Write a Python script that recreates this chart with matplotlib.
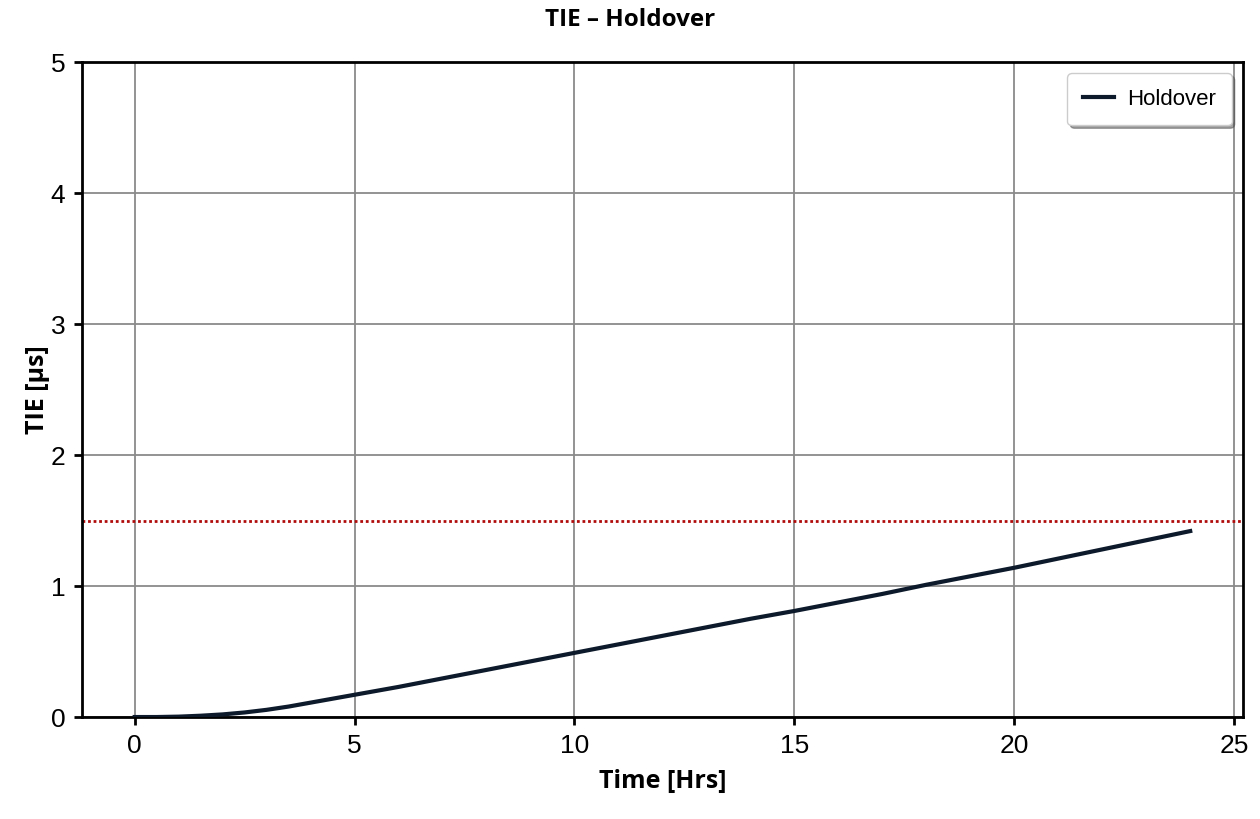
import matplotlib
matplotlib.use("Agg")
import matplotlib.pyplot as plt

# TIE over 24 h of holdover
hours = [0, 0.5, 1, 1.5, 2, 2.5, 3, 3.5, 4, 5, 6, 7, 8, 9, 10, 11, 12,
         13, 14, 15, 16, 17, 18, 19, 20, 21, 22, 23, 24]
tie_us = [0.0, 0.0, 0.003, 0.01, 0.02, 0.035, 0.055, 0.08, 0.11, 0.17, 0.23,
          0.295, 0.36, 0.425, 0.49, 0.555, 0.62, 0.685, 0.75, 0.81, 0.875,
          0.94, 1.01, 1.075, 1.14, 1.21, 1.28, 1.35, 1.42]
limit_us = 1.5
x_ticks = [0, 5, 10, 15, 20, 25]
y_ticks = [0, 1, 2, 3, 4, 5]

LINE_C, LIMIT_C = "#0d1a2b", "#b00c0c"
TICK_FONT = ["Liberation Sans", "DejaVu Sans"]
LABEL_FONT = ["Open Sans", "DejaVu Sans"]

fig = plt.figure(figsize=(12.6, 8.19), dpi=100)
ax = fig.add_axes([0.065, 0.1245, 0.9215, 0.7995])

ax.plot(hours, tie_us, color=LINE_C, lw=3, label="Holdover", zorder=3)
ax.axhline(limit_us, color=LIMIT_C, lw=2, ls=(0, (1, 1)), zorder=2)

ax.set_xlim(-1.2, 25.2)
ax.set_ylim(0, 5)
ax.set_xticks(x_ticks)
ax.set_yticks(y_ticks)
ax.grid(True, color="#8a8a8a", lw=1.3)
ax.set_axisbelow(True)
for s in ax.spines.values():
    s.set_linewidth(2)
    s.set_color("black")
ax.tick_params(length=6, width=2, labelsize=19, pad=6)
for lab in ax.get_xticklabels() + ax.get_yticklabels():
    lab.set_family(TICK_FONT)

ax.set_xlabel("Time [Hrs]", family=LABEL_FONT, fontweight="bold",
              fontsize=18, labelpad=8)
ax.set_ylabel("TIE [µs]", family=LABEL_FONT, fontweight="bold",
              fontsize=18, labelpad=0)
fig.suptitle("TIE – Holdover", family=LABEL_FONT, fontweight="bold",
             fontsize=17.5, y=0.99)

leg = ax.legend(loc="upper right", fontsize=16, shadow=True, fancybox=True,
                handlelength=1.4, borderpad=0.7, handletextpad=0.6)
for t in leg.get_texts():
    t.set_family(TICK_FONT)

fig.savefig("out.png", dpi=100)
